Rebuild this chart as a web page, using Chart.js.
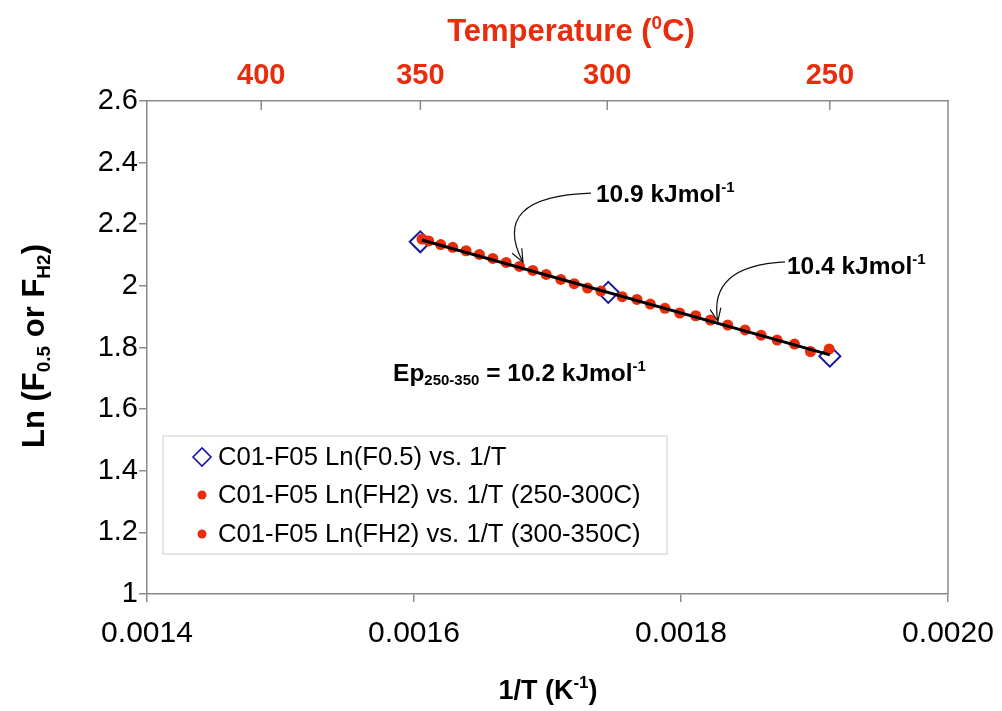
<!DOCTYPE html>
<html>
<head>
<meta charset="utf-8">
<script src="https://cdn.jsdelivr.net/npm/chart.js@4.4.1/dist/chart.umd.min.js"></script>
<style>
  body { margin: 0; background: #fff; }
  #myChart { display: block; }
</style>
</head>
<body>
<canvas id="myChart" width="1002" height="711"></canvas>
<script>
//DATOS
// 1/T of the three F0.5 points (350, 300, 250 C)
const f05X = [0.0016047, 0.0017455, 0.0019115];
const f05Y = [2.143, 1.979, 1.772];

// FH2 points, 300-350 C
const fh2HighX = [0.001606, 0.001611, 0.001620, 0.001629, 0.001639, 0.001649, 0.001659, 0.001669,
  0.001679, 0.001689, 0.001699, 0.001710, 0.001720, 0.001730, 0.001740];
const fh2HighY = [2.152, 2.146, 2.134, 2.125, 2.114, 2.102, 2.089, 2.076,
  2.063, 2.050, 2.037, 2.021, 2.007, 1.993, 1.983];

// FH2 points, 250-300 C
const fh2LowX = [0.001756, 0.001767, 0.001777, 0.001788, 0.001799, 0.001811, 0.001822,
  0.001835, 0.001848, 0.001860, 0.001872, 0.001885, 0.001897, 0.001911];
const fh2LowY = [1.965, 1.956, 1.941, 1.927, 1.912, 1.903, 1.889,
  1.873, 1.857, 1.840, 1.824, 1.811, 1.787, 1.795];

// fitted line (Ep 250-350)
const fitX = [0.0016058, 0.0019115];
const fitY = [2.149, 1.776];

// ticks
const xTicks = [0.0014, 0.0016, 0.0018, 0.0020];
const yTicks = [1, 1.2, 1.4, 1.6, 1.8, 2, 2.2, 2.4, 2.6];
const tempTicks = [400, 350, 300, 250];

const legendLabels = [
  "C01-F05 Ln(F0.5) vs. 1/T",
  "C01-F05 Ln(FH2) vs. 1/T (250-300C)",
  "C01-F05 Ln(FH2) vs. 1/T (300-350C)",
];

//ESTILOS
const FONT = "'Liberation Sans', Arial, sans-serif";
const ROJO = "rgb(232, 44, 12)";
const AZUL = "rgb(22, 22, 160)";
const GRIS = "#8a8a8a";

function pts(xs, ys) {
  return xs.map((x, i) => ({ x: x, y: ys[i] }));
}

// texto con sub/superindices: partes = [texto, tipo] tipo: "n", "sub", "sup"
function drawRich(ctx, partes, x, y, size, weight, color, align) {
  const medidas = partes.map(([t, tipo]) => {
    const s = tipo === "n" ? size : Math.round(size * 0.62);
    ctx.font = `${weight} ${s}px ${FONT}`;
    return { t, tipo, s, w: ctx.measureText(t).width };
  });
  const total = medidas.reduce((a, m) => a + m.w, 0);
  let cx = align === "center" ? x - total / 2 : x;
  ctx.fillStyle = color;
  ctx.textBaseline = "alphabetic";
  ctx.textAlign = "left";
  const base = y + size * 0.36;
  medidas.forEach((m) => {
    ctx.font = `${weight} ${m.s}px ${FONT}`;
    let dy = 0;
    if (m.tipo === "sup") dy = -size * 0.4;
    if (m.tipo === "sub") dy = size * 0.18;
    ctx.fillText(m.t, cx, base + dy);
    cx += m.w;
  });
}

function flecha(ctx, a, c, b) {
  ctx.save();
  ctx.strokeStyle = "#111";
  ctx.lineWidth = 1.2;
  ctx.beginPath();
  ctx.moveTo(a.x, a.y);
  ctx.quadraticCurveTo(c.x, c.y, b.x, b.y);
  ctx.stroke();
  const ang = Math.atan2(b.y - c.y, b.x - c.x);
  const L = 14;
  ctx.beginPath();
  ctx.moveTo(b.x - L * Math.cos(ang - 0.4), b.y - L * Math.sin(ang - 0.4));
  ctx.lineTo(b.x, b.y);
  ctx.lineTo(b.x - L * Math.cos(ang + 0.4), b.y - L * Math.sin(ang + 0.4));
  ctx.stroke();
  ctx.restore();
}

const extras = {
  id: "extras",
  beforeDraw(chart) {
    const ctx = chart.ctx;
    ctx.save();
    ctx.fillStyle = "#fff";
    ctx.fillRect(0, 0, chart.width, chart.height);
    ctx.restore();
  },
  afterDraw(chart) {
    const ctx = chart.ctx;
    const a = chart.chartArea;
    const sx = chart.scales.x;
    const sy = chart.scales.y;
    const P = (x, y) => ({ x: sx.getPixelForValue(x), y: sy.getPixelForValue(y) });
    ctx.save();

    // borde derecho
    ctx.strokeStyle = GRIS;
    ctx.lineWidth = 1.5;
    ctx.beginPath();
    ctx.moveTo(a.right, a.top);
    ctx.lineTo(a.right, a.bottom);
    ctx.stroke();

    // ticks superiores hacia adentro
    chart.scales.x2.ticks.forEach((t) => {
      const px = chart.scales.x2.getPixelForValue(t.value);
      ctx.beginPath();
      ctx.moveTo(px, a.top);
      ctx.lineTo(px, a.top + 9);
      ctx.stroke();
    });

    // titulos
    drawRich(ctx, [["Temperature (", "n"], ["0", "sup"], ["C)", "n"]], 571, 30, 31, "bold", ROJO, "center");
    drawRich(ctx, [["1/T (K", "n"], ["-1", "sup"], [")", "n"]], 548, 689, 27, "bold", "#000", "center");
    ctx.save();
    ctx.translate(33, 346);
    ctx.rotate(-Math.PI / 2);
    drawRich(ctx, [["Ln (F", "n"], ["0.5", "sub"], [" or F", "n"], ["H2", "sub"], [")", "n"]], 0, 0, 31, "bold", "#000", "center");
    ctx.restore();

    // anotaciones
    const t1 = P(0.0017363, 2.301);
    drawRich(ctx, [["10.9 kJmol", "n"], ["-1", "sup"]], t1.x, t1.y, 24.5, "bold", "#000", "left");
    flecha(ctx, { x: t1.x - 5, y: t1.y }, P(0.0016560, 2.290), P(0.0016816, 2.077));

    const t2 = P(0.0018794, 2.068);
    drawRich(ctx, [["10.4 kJmol", "n"], ["-1", "sup"]], t2.x, t2.y, 24.5, "bold", "#000", "left");
    flecha(ctx, { x: t2.x - 2, y: t2.y - 3 }, P(0.0018200, 2.065), P(0.0018276, 1.885));

    const t3 = P(0.0015843, 1.720);
    drawRich(ctx, [["Ep", "n"], ["250-350", "sub"], [" = 10.2 kJmol", "n"], ["-1", "sup"]], t3.x, t3.y, 24.5, "bold", "#000", "left");

    // leyenda
    const lx = a.left + 16, ly = 436, lw = 504, lh = 118;
    ctx.fillStyle = "#fff";
    ctx.fillRect(lx, ly, lw, lh);
    ctx.strokeStyle = "#d4d4d4";
    ctx.lineWidth = 1.2;
    ctx.strokeRect(lx, ly, lw, lh);
    const filas = [457, 495, 534];
    ctx.font = `25.7px ${FONT}`;
    ctx.textBaseline = "middle";
    ctx.textAlign = "left";
    legendLabels.forEach((txt, i) => {
      const my = filas[i];
      const mx = lx + 39;
      if (i === 0) {
        ctx.strokeStyle = AZUL;
        ctx.lineWidth = 1.6;
        ctx.beginPath();
        ctx.moveTo(mx - 9, my);
        ctx.lineTo(mx, my - 9);
        ctx.lineTo(mx + 9, my);
        ctx.lineTo(mx, my + 9);
        ctx.closePath();
        ctx.stroke();
      } else {
        ctx.fillStyle = ROJO;
        ctx.beginPath();
        ctx.arc(mx, my, 4.5, 0, Math.PI * 2);
        ctx.fill();
      }
      ctx.fillStyle = "#000";
      ctx.fillText(txt, lx + 55, my + 1);
    });
    ctx.restore();
  },
};

const data = {
  datasets: [
    {
      label: "fit",
      data: pts(fitX, fitY),
      showLine: true,
      borderColor: "#000",
      borderWidth: 3,
      pointRadius: 0,
    },
    {
      label: legendLabels[1],
      data: pts(fh2LowX, fh2LowY),
      showLine: false,
      backgroundColor: ROJO,
      borderWidth: 0,
      pointRadius: 5.5,
    },
    {
      label: legendLabels[2],
      data: pts(fh2HighX, fh2HighY),
      showLine: false,
      backgroundColor: ROJO,
      borderWidth: 0,
      pointRadius: 5.5,
    },
    {
      label: legendLabels[0],
      data: pts(f05X, f05Y),
      showLine: false,
      pointStyle: "rectRot",
      pointRadius: 10.5,
      backgroundColor: "rgba(255,255,255,0)",
      borderColor: AZUL,
      borderWidth: 2,
    },
  ],
};

// sin relleno automatico por etiquetas de los extremos
function sinPadding(s) {
  s.paddingLeft = 0;
  s.paddingRight = 0;
}

const config = {
  type: "scatter",
  data: data,
  plugins: [extras],
  options: {
    responsive: false,
    animation: false,
    devicePixelRatio: 1,
    layout: { padding: { left: 0, right: 54, top: 0, bottom: 0 } },
    plugins: {
      legend: { display: false },
      tooltip: { enabled: false },
    },
    scales: {
      x: {
        type: "linear",
        position: "bottom",
        min: 0.0014,
        max: 0.002,
        afterBuildTicks: (s) => { s.ticks = xTicks.map((v) => ({ value: v })); },
        afterFit: (s) => { s.height = 117; sinPadding(s); },
        ticks: {
          callback: (v) => v.toFixed(4),
          font: { size: 30, family: FONT },
          color: "#000",
          padding: 14,
          maxRotation: 0,
          autoSkip: false,
        },
        grid: { drawOnChartArea: false, drawTicks: true, tickLength: 8, color: GRIS, lineWidth: 1.5 },
        border: { display: true, color: GRIS, width: 1.5 },
      },
      x2: {
        type: "linear",
        position: "top",
        min: 0.0014,
        max: 0.002,
        afterBuildTicks: (s) => { s.ticks = tempTicks.map((t) => ({ value: 1 / (t + 273.15) })); },
        afterFit: (s) => { s.height = 101; sinPadding(s); },
        ticks: {
          callback: (v) => Math.round(1 / v - 273.15),
          font: { size: 29, weight: "bold", family: FONT },
          color: ROJO,
          padding: 8,
          maxRotation: 0,
          autoSkip: false,
        },
        grid: { display: false, drawTicks: false },
        border: { display: true, color: GRIS, width: 1.5 },
      },
      y: {
        min: 1,
        max: 2.6,
        afterBuildTicks: (s) => { s.ticks = yTicks.map((v) => ({ value: v })); },
        afterFit: (s) => { s.width = 147; },
        ticks: {
          callback: (v) => String(+v.toFixed(1)),
          font: { size: 29, family: FONT },
          color: "#000",
          padding: 1,
        },
        grid: { drawOnChartArea: false, drawTicks: true, tickLength: 8, color: GRIS, lineWidth: 1.5 },
        border: { display: true, color: GRIS, width: 1.5 },
      },
    },
  },
};

const myChart = new Chart(document.getElementById("myChart"), config);
</script>
</body>
</html>
